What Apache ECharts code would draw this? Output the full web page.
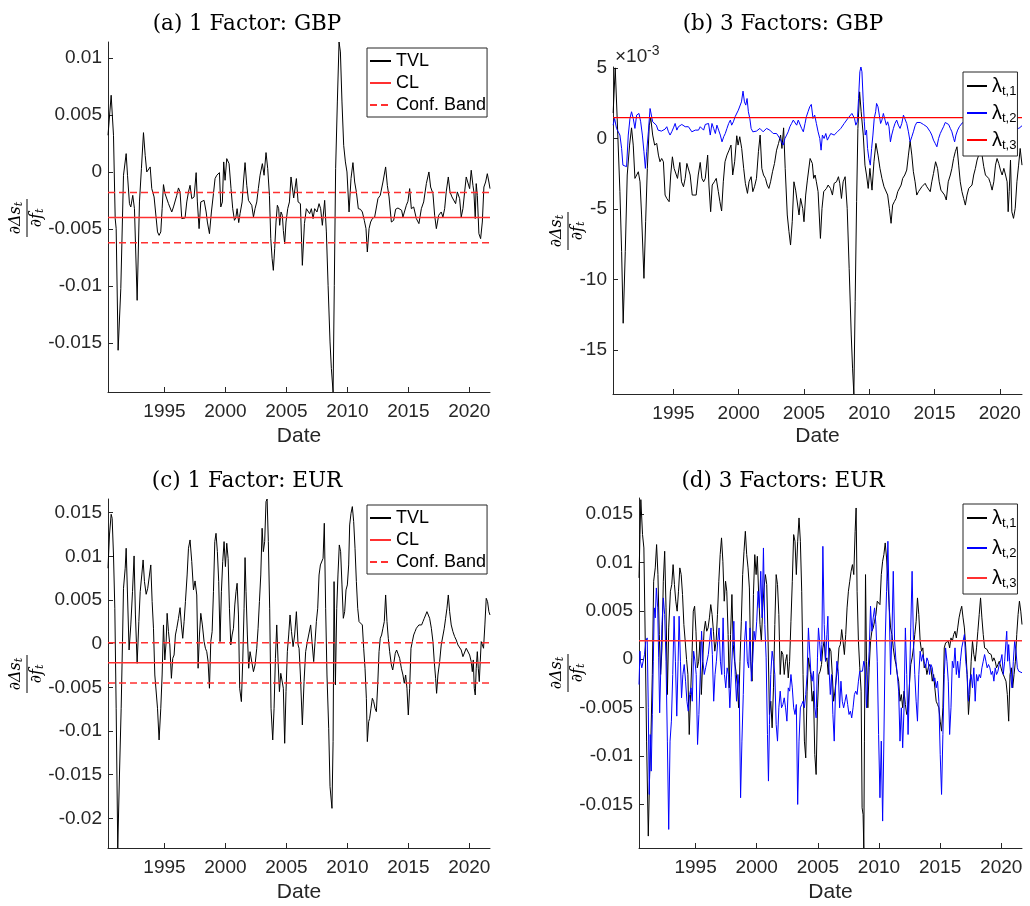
<!DOCTYPE html>
<html><head><meta charset="utf-8">
<script src="https://cdn.jsdelivr.net/npm/echarts/dist/echarts.min.js"></script>
<style>html,body{margin:0;padding:0;background:#fff}#c{width:1030px;height:906px}</style>
</head><body><div id="c"></div>
<script>
// ---------- shared axis data ----------
const dateTicks = [1995, 2000, 2005, 2010, 2015, 2020];
const dateMin = 1990.37, dateMax = 2021.70;
const titles = ['(a) 1 Factor: GBP', '(b) 3 Factors: GBP', '(c) 1 Factor: EUR', '(d) 3 Factors: EUR'];
const yTicksA = [0.01, 0.005, 0, -0.005, -0.01, -0.015];
const yTicksB = [5, 0, -5, -10, -15];           // x 10^-3
const yTicksC = [0.015, 0.01, 0.005, 0, -0.005, -0.01, -0.015, -0.02];
const yTicksD = [0.015, 0.01, 0.005, 0, -0.005, -0.01, -0.015];
const yRangeA = [-0.0193, 0.0114];
const yRangeB = [-18.1, 5.06];
const yRangeC = [-0.0234, 0.01656];
const yRangeD = [-0.0195, 0.01665];
const tvlNames = ['TVL', 'CL', 'Conf. Band'];
const lamNames = ['λt,1', 'λt,2', 'λt,3'];

// ---------- (a) 1 factor GBP ----------
const gbpTVL = [[1990.37,0.00322],[1990.63,0.00673],[1990.82,0.00322],[1990.96,-0.00409],[1991.04,-0.00497],[1991.20,-0.01564],[1991.42,-0.01023],[1991.64,-0.00029],[1991.86,0.00161],[1991.97,-0.00029],[1992.13,-0.00278],[1992.24,-0.00307],[1992.40,-0.00205],[1992.54,-0.00322],[1992.76,-0.01126],[1992.95,-0.00263],[1993.11,0.00029],[1993.28,0.00345],[1993.42,0.00146],[1993.55,0],[1993.69,0.00015],[1993.83,0.00044],[1993.96,-0.00146],[1994.15,-0.00219],[1994.29,-0.00219],[1994.43,-0.00526],[1994.56,-0.00556],[1994.70,-0.00526],[1994.81,-0.00322],[1994.92,-0.00111],[1995.05,-0.0019],[1995.19,-0.0019],[1995.33,-0.00278],[1995.46,-0.00292],[1995.60,-0.00351],[1995.74,-0.00307],[1995.87,-0.00307],[1996.01,-0.00205],[1996.15,-0.0014],[1996.28,-0.00175],[1996.42,-0.00409],[1996.56,-0.00404],[1996.69,-0.00404],[1996.83,-0.00263],[1996.97,-0.00175],[1997.10,-0.00117],[1997.24,-0.00234],[1997.43,-0.00219],[1997.60,-0.00006],[1997.70,-0.00263],[1997.84,-0.00497],[1997.98,-0.00263],[1998.11,-0.00278],[1998.25,-0.00249],[1998.42,-0.00351],[1998.52,-0.00439],[1998.69,-0.00541],[1998.85,-0.00351],[1999.02,-0.0019],[1999.15,-0.00058],[1999.29,-0.00029],[1999.43,-0.00023],[1999.51,-0.00006],[1999.62,-0.00307],[1999.75,-0.00263],[1999.86,0.00088],[1999.97,-0.00073],[2000.11,0.00117],[2000.30,0.00073],[2000.46,-0.00146],[2000.60,-0.00322],[2000.74,-0.00424],[2000.85,-0.00404],[2000.96,-0.00322],[2001.09,-0.00444],[2001.20,-0.00366],[2001.37,-0.00263],[2001.48,-0.00088],[2001.61,0.00082],[2001.75,-0.00117],[2001.89,-0.00249],[2002.02,-0.00249],[2002.16,-0.00292],[2002.30,-0.00395],[2002.43,-0.00322],[2002.57,-0.00263],[2002.70,-0.00146],[2002.84,-0.00029],[2003.03,0.00073],[2003.17,-0.00029],[2003.33,0.0017],[2003.47,0.00029],[2003.61,-0.00205],[2003.72,-0.00585],[2003.83,-0.0076],[2003.93,-0.00863],[2004.04,-0.00673],[2004.15,-0.00439],[2004.26,-0.00292],[2004.37,-0.00322],[2004.45,-0.00468],[2004.56,-0.00351],[2004.67,-0.0038],[2004.75,-0.00512],[2004.86,-0.00629],[2004.97,-0.00439],[2005.11,-0.00322],[2005.25,-0.00263],[2005.38,-0.00044],[2005.49,-0.00058],[2005.60,-0.00228],[2005.82,-0.00058],[2005.96,-0.00263],[2006.15,-0.00278],[2006.31,-0.00819],[2006.48,-0.00453],[2006.64,-0.00322],[2006.78,-0.00316],[2006.91,-0.00366],[2007.05,-0.00322],[2007.19,-0.00409],[2007.32,-0.00322],[2007.51,-0.00351],[2007.68,-0.00278],[2007.81,-0.00322],[2007.95,-0.00468],[2008.14,-0.00249],[2008.28,-0.00526],[2008.42,-0.00994],[2008.58,-0.01491],[2008.69,-0.01725],[2008.83,-0.0193],[2008.93,-0.00994],[2009.04,0.00029],[2009.18,0.00614],[2009.32,0.0114],[2009.43,0.01053],[2009.56,0.00614],[2009.70,0.00234],[2009.84,0.00088],[2009.97,0],[2010.14,-0.00351],[2010.30,-0.00058],[2010.46,0.00082],[2010.60,-0.00088],[2010.74,-0.00175],[2010.90,-0.00322],[2011.07,-0.00327],[2011.23,-0.00351],[2011.39,-0.00424],[2011.53,-0.00497],[2011.64,-0.00702],[2011.78,-0.00497],[2011.91,-0.00439],[2012.05,-0.00409],[2012.24,-0.00395],[2012.38,-0.00409],[2012.51,-0.00234],[2012.70,-0.00205],[2012.92,-0.00088],[2013.14,0.00044],[2013.28,-0.00117],[2013.42,-0.00219],[2013.61,-0.00439],[2013.80,-0.00424],[2013.96,-0.00327],[2014.15,-0.00316],[2014.29,-0.00322],[2014.45,-0.00336],[2014.56,-0.00395],[2014.70,-0.00395],[2014.84,-0.00292],[2014.97,-0.00257],[2015.11,-0.00146],[2015.25,-0.00322],[2015.44,-0.00307],[2015.66,-0.00409],[2015.87,-0.00453],[2016.07,-0.00322],[2016.26,-0.00263],[2016.48,-0.00102],[2016.69,0],[2016.83,-0.00132],[2017.02,-0.0019],[2017.16,-0.0038],[2017.30,-0.00497],[2017.49,-0.0038],[2017.70,-0.00351],[2017.84,-0.00395],[2017.98,-0.00322],[2018.11,-0.00175],[2018.28,-0.00044],[2018.42,-0.00175],[2018.58,-0.00219],[2018.74,-0.00234],[2018.88,-0.00278],[2019.02,-0.00175],[2019.21,-0.00234],[2019.34,-0.00395],[2019.48,-0.00322],[2019.62,-0.00175],[2019.75,-0.00044],[2019.89,-0.00058],[2020.03,-0.00146],[2020.16,0.00015],[2020.30,-0.00117],[2020.38,-0.00175],[2020.49,-0.00409],[2020.57,-0.00102],[2020.66,-0.00205],[2020.79,-0.00541],[2020.93,-0.00585],[2021.07,-0.00439],[2021.20,-0.00132],[2021.34,-0.00088],[2021.48,-0.00015],[2021.61,-0.00088],[2021.70,-0.00146]];
const gbpCL = -0.0040;
const gbpBand = [-0.0062, -0.0018];

// ---------- (b) 3 factors GBP (values in 10^-3) ----------
const gbpLam1 = [[1990.38,1.8],[1990.54,5.0],[1990.69,1.42],[1990.90,-3.77],[1991.03,-8.02],[1991.15,-13.09],[1991.31,-8.02],[1991.46,-2.59],[1991.64,-0.47],[1991.79,0.75],[1991.92,-0.47],[1992.05,-2.83],[1992.18,-2.95],[1992.31,-2.36],[1992.44,-3.07],[1992.56,-5.42],[1992.74,-9.91],[1992.87,-5.9],[1993.00,-2.12],[1993.15,0.94],[1993.26,1.46],[1993.41,0.24],[1993.56,-0.47],[1993.72,-0.35],[1993.85,-1.18],[1993.97,-1.65],[1994.10,-1.42],[1994.23,-1.65],[1994.36,-4.01],[1994.49,-4.25],[1994.67,-4.48],[1994.79,-2.59],[1994.92,-1.3],[1995.05,-2.12],[1995.18,-2.0],[1995.31,-2.83],[1995.49,-1.7],[1995.62,-3.07],[1995.77,-3.42],[1995.90,-2.83],[1996.03,-1.77],[1996.15,-1.65],[1996.28,-2.59],[1996.44,-4.01],[1996.59,-4.13],[1996.74,-4.01],[1996.90,-2.59],[1997.05,-1.7],[1997.18,-2.83],[1997.31,-3.07],[1997.44,-2.83],[1997.62,-1.18],[1997.72,-3.3],[1997.85,-5.19],[1997.97,-3.3],[1998.13,-3.07],[1998.28,-2.83],[1998.44,-3.77],[1998.56,-4.48],[1998.69,-5.14],[1998.82,-3.07],[1998.95,-1.65],[1999.10,-1.18],[1999.26,-0.83],[1999.41,-0.47],[1999.54,-2.59],[1999.69,-1.65],[1999.85,0.19],[1999.95,-0.47],[2000.08,0.12],[2000.23,-0.71],[2000.38,-2.12],[2000.51,-3.18],[2000.67,-3.89],[2000.79,-3.07],[2000.95,-2.71],[2001.08,-3.77],[2001.21,-3.42],[2001.36,-2.83],[2001.51,-0.94],[2001.64,0.24],[2001.77,-2.12],[2001.90,-2.59],[2002.05,-2.83],[2002.18,-3.3],[2002.31,-3.54],[2002.44,-3.07],[2002.59,-2.36],[2002.74,-1.77],[2002.90,-0.83],[2003.05,-0.35],[2003.21,0.24],[2003.31,-0.71],[2003.44,0.75],[2003.56,-2.12],[2003.72,-5.42],[2003.85,-6.6],[2003.97,-7.55],[2004.10,-5.9],[2004.23,-3.07],[2004.36,-3.66],[2004.49,-3.77],[2004.62,-5.42],[2004.74,-4.25],[2004.90,-4.95],[2005.00,-5.9],[2005.13,-4.01],[2005.26,-2.95],[2005.38,-2.83],[2005.47,-1.42],[2005.64,-1.77],[2005.74,-2.83],[2005.85,-2.59],[2005.95,-3.07],[2006.08,-3.77],[2006.26,-7.08],[2006.38,-4.95],[2006.51,-3.77],[2006.72,-3.54],[2006.85,-3.3],[2007.03,-3.54],[2007.18,-4.01],[2007.31,-3.18],[2007.49,-3.07],[2007.64,-2.71],[2007.74,-3.18],[2007.87,-4.25],[2008.00,-3.07],[2008.15,-2.71],[2008.31,-4.95],[2008.46,-9.2],[2008.62,-13.92],[2008.72,-16.27],[2008.82,-18.1],[2008.92,-11.56],[2009.03,-4.48],[2009.13,0.71],[2009.26,3.3],[2009.38,1.89],[2009.54,0.24],[2009.67,-1.89],[2009.79,-2.59],[2009.92,-3.54],[2010.05,-2.12],[2010.21,-3.66],[2010.36,-1.65],[2010.51,-0.35],[2010.67,-1.18],[2010.82,-2.12],[2010.97,-2.83],[2011.13,-3.42],[2011.28,-3.54],[2011.41,-4.01],[2011.54,-4.95],[2011.67,-6.01],[2011.79,-4.72],[2011.92,-4.48],[2012.05,-4.25],[2012.18,-3.77],[2012.31,-3.89],[2012.44,-3.3],[2012.56,-2.83],[2012.72,-2.59],[2012.87,-2.24],[2013.00,-1.18],[2013.13,-0.19],[2013.26,-1.18],[2013.38,-2.36],[2013.51,-3.07],[2013.64,-4.01],[2013.77,-3.77],[2013.90,-3.89],[2014.03,-3.42],[2014.15,-3.3],[2014.28,-3.18],[2014.41,-3.42],[2014.54,-3.54],[2014.67,-3.77],[2014.79,-3.07],[2014.92,-2.48],[2015.08,-1.65],[2015.23,-2.12],[2015.36,-3.07],[2015.49,-3.66],[2015.64,-3.77],[2015.77,-4.01],[2015.90,-4.36],[2016.05,-3.07],[2016.21,-2.59],[2016.33,-2.12],[2016.46,-1.42],[2016.59,-0.94],[2016.72,-0.59],[2016.85,-1.89],[2016.97,-3.07],[2017.10,-3.77],[2017.23,-4.25],[2017.36,-4.72],[2017.49,-4.01],[2017.62,-3.54],[2017.74,-3.42],[2017.87,-3.3],[2018.00,-2.59],[2018.13,-2.12],[2018.26,-1.53],[2018.38,-1.65],[2018.51,-0.83],[2018.64,-1.18],[2018.77,-2.0],[2018.90,-2.59],[2019.03,-2.71],[2019.15,-2.83],[2019.28,-3.18],[2019.41,-3.66],[2019.54,-3.07],[2019.67,-1.89],[2019.79,-1.42],[2019.92,-1.77],[2020.05,-2.24],[2020.18,-2.59],[2020.31,-2.12],[2020.44,-2.59],[2020.56,-3.07],[2020.64,-5.19],[2020.72,-3.77],[2020.82,-1.53],[2020.92,-5.19],[2021.05,-5.66],[2021.18,-4.95],[2021.31,-3.07],[2021.44,-1.89],[2021.56,-0.71],[2021.70,-1.89]];
const gbpLam2 = [[1990.38,0.94],[1990.49,1.42],[1990.64,0.71],[1990.77,0.47],[1990.90,0.24],[1991.03,-0.71],[1991.13,-1.89],[1991.28,-2.0],[1991.41,-2.0],[1991.54,0.24],[1991.67,1.42],[1991.79,1.89],[1991.92,1.42],[1992.05,0.71],[1992.18,1.65],[1992.36,1.77],[1992.49,1.18],[1992.62,0.24],[1992.74,-0.94],[1992.85,-2.12],[1992.95,-0.94],[1993.08,0.47],[1993.21,2.12],[1993.31,2.24],[1993.41,1.18],[1993.56,1.06],[1993.69,0.94],[1993.82,0.59],[1993.95,0.59],[1994.08,0.52],[1994.23,0.59],[1994.36,0.66],[1994.49,0.83],[1994.62,0.47],[1994.74,0.24],[1994.87,0.47],[1995.00,0.75],[1995.13,1.06],[1995.26,0.59],[1995.38,0.83],[1995.51,0.94],[1995.64,0.99],[1995.77,0.9],[1995.90,0.83],[1996.03,0.9],[1996.15,0.83],[1996.28,0.75],[1996.41,0.47],[1996.54,0.42],[1996.67,0.59],[1996.79,0.66],[1996.92,0.59],[1997.05,0.83],[1997.18,0.75],[1997.31,0.59],[1997.44,0.99],[1997.56,0.9],[1997.69,1.06],[1997.82,0.24],[1997.95,1.06],[1998.08,0.71],[1998.21,0.35],[1998.33,0.94],[1998.46,0.59],[1998.59,0.24],[1998.72,-0.24],[1998.85,0.12],[1998.97,0.35],[1999.10,0.71],[1999.23,1.06],[1999.36,1.3],[1999.46,0.94],[1999.59,1.18],[1999.72,1.53],[1999.85,1.65],[1999.97,2.0],[2000.08,2.12],[2000.21,2.59],[2000.33,3.35],[2000.44,2.59],[2000.54,2.36],[2000.64,2.83],[2000.74,1.89],[2000.85,1.42],[2000.95,0.71],[2001.08,0.47],[2001.21,0.35],[2001.36,0.52],[2001.49,0.59],[2001.62,0.71],[2001.74,0.59],[2001.87,0.47],[2002.00,0.59],[2002.13,0.71],[2002.26,0.59],[2002.38,0.59],[2002.51,0.47],[2002.64,0.35],[2002.77,0.42],[2002.90,0.35],[2003.03,0.24],[2003.15,0],[2003.28,-0.24],[2003.41,-0.47],[2003.54,0],[2003.67,0.24],[2003.79,0.47],[2003.92,0.83],[2004.05,1.06],[2004.18,1.3],[2004.31,1.18],[2004.44,0.94],[2004.56,1.3],[2004.69,1.18],[2004.82,0.71],[2004.95,0.47],[2005.08,1.06],[2005.18,1.53],[2005.31,1.89],[2005.44,2.24],[2005.56,2.41],[2005.69,1.42],[2005.82,1.65],[2005.95,1.06],[2006.08,0.47],[2006.21,0],[2006.31,-0.83],[2006.41,0.24],[2006.54,0],[2006.67,0.35],[2006.79,-0.12],[2006.92,0.12],[2007.05,0.35],[2007.18,0.47],[2007.31,0.24],[2007.44,0.24],[2007.56,0.47],[2007.69,0.59],[2007.82,0.71],[2007.95,0.83],[2008.08,1.06],[2008.21,1.18],[2008.36,1.42],[2008.51,1.53],[2008.67,1.77],[2008.77,1.89],[2008.87,1.42],[2008.97,0.94],[2009.08,1.18],[2009.18,2.83],[2009.28,4.72],[2009.36,5.06],[2009.44,4.72],[2009.54,2.59],[2009.62,1.18],[2009.69,0.24],[2009.79,0.59],[2009.87,-0.71],[2009.97,-1.42],[2010.08,-1.89],[2010.18,-0.71],[2010.28,0.24],[2010.38,1.42],[2010.49,1.89],[2010.56,2.48],[2010.67,2.24],[2010.77,1.65],[2010.87,1.06],[2010.97,1.3],[2011.08,1.77],[2011.21,1.3],[2011.31,0.94],[2011.41,1.18],[2011.51,0.83],[2011.62,-0.24],[2011.72,0.24],[2011.85,0.71],[2011.97,1.06],[2012.10,1.3],[2012.23,0.94],[2012.36,0.71],[2012.49,1.06],[2012.62,1.65],[2012.74,1.77],[2012.87,1.06],[2013.00,0.47],[2013.13,-0.24],[2013.26,0.12],[2013.38,0.47],[2013.51,0.9],[2013.64,1.13],[2013.77,1.23],[2013.90,1.13],[2014.03,1.06],[2014.15,0.99],[2014.28,0.94],[2014.41,0.83],[2014.54,0.71],[2014.67,0.47],[2014.79,0.24],[2014.92,-0.12],[2015.05,-0.35],[2015.18,-0.59],[2015.31,0],[2015.44,0.35],[2015.56,0.59],[2015.69,0.83],[2015.82,1.13],[2015.95,1.23],[2016.08,0.99],[2016.21,0.71],[2016.33,0.47],[2016.46,0],[2016.54,-0.24],[2016.64,0.24],[2016.77,0.59],[2016.90,0.83],[2017.03,0.94],[2017.15,1.13],[2017.5,0.6],[2017.9,1.1],[2018.3,0.4],[2018.7,0.9],[2019.1,0.5],[2019.5,1.0],[2019.9,0.6],[2020.3,1.1],[2020.7,0.5],[2021.1,0.8],[2021.46,0.71],[2021.70,0.9]];
const gbpLam3 = 1.48;

// ---------- (c) 1 factor EUR ----------
const eurTVL = [[1990.37,0.00863],[1990.49,0.01244],[1990.63,0.01481],[1990.71,0.01435],[1990.82,0.01015],[1990.93,0.00405],[1991.04,-0.0074],[1991.17,-0.0234],[1991.31,-0.01504],[1991.45,-0.0074],[1991.56,0.00023],[1991.64,0.00634],[1991.78,0.00863],[1991.86,0.01092],[1991.97,0.00557],[1992.10,-0.00073],[1992.24,0.00214],[1992.38,0.00595],[1992.51,0.01004],[1992.62,0.00328],[1992.76,-0.00225],[1992.90,0.00252],[1993.01,0.00595],[1993.14,0.00786],[1993.25,0.00958],[1993.36,0.0071],[1993.50,0.00565],[1993.63,0.00634],[1993.77,0.00786],[1993.88,0.00901],[1993.99,0.00481],[1994.10,0.00176],[1994.21,-0.00359],[1994.32,-0.0034],[1994.43,-0.0074],[1994.56,-0.01103],[1994.70,-0.0074],[1994.81,-0.00359],[1994.92,0.00214],[1995.03,-0.00187],[1995.14,0.00023],[1995.22,0.00347],[1995.33,0.00137],[1995.44,-0.00015],[1995.57,-0.00397],[1995.68,-0.00168],[1995.79,-0.0013],[1995.90,0.00099],[1996.01,0.00176],[1996.15,0.0029],[1996.28,0.00412],[1996.39,0.00214],[1996.50,0.00061],[1996.61,0.00252],[1996.72,0.00481],[1996.86,0.00786],[1996.97,0.01092],[1997.10,0.01187],[1997.24,0.00939],[1997.38,0.00615],[1997.51,0.00718],[1997.65,0.00557],[1997.76,-0.00282],[1997.87,0.00099],[1997.98,0.00347],[1998.11,0.00214],[1998.25,0.00023],[1998.36,-0.00053],[1998.47,-0.00092],[1998.58,-0.00206],[1998.69,-0.00511],[1998.80,0.00023],[1998.91,0.00137],[1999.02,0.00595],[1999.13,0.01168],[1999.23,0.01263],[1999.34,0.01053],[1999.45,0.0071],[1999.56,0.00023],[1999.67,0.00595],[1999.78,0.00939],[1999.89,0.01168],[2000.00,0.00882],[2000.11,0.01149],[2000.22,0.00977],[2000.33,0.00405],[2000.44,-0.00015],[2000.55,0.00099],[2000.66,0.00176],[2000.77,0.00443],[2000.87,0.00595],[2000.96,0.00691],[2001.07,0.00328],[2001.17,-0.00511],[2001.31,-0.00664],[2001.42,-0.00206],[2001.53,0.00405],[2001.61,0.00985],[2001.69,0.00595],[2001.80,0.00099],[2001.91,-0.00282],[2002.02,-0.00092],[2002.16,-0.00084],[2002.30,-0.00321],[2002.43,-0.00244],[2002.57,-0.00053],[2002.68,0.00176],[2002.79,0.00481],[2002.90,0.00786],[2003.01,0.01321],[2003.11,0.01053],[2003.22,0.01168],[2003.33,0.01626],[2003.42,0.01656],[2003.52,0.01168],[2003.63,0.00405],[2003.74,-0.0074],[2003.88,-0.01103],[2003.99,-0.0074],[2004.10,-0.00168],[2004.21,0.00214],[2004.32,-0.00206],[2004.43,-0.0055],[2004.54,-0.0034],[2004.64,-0.00359],[2004.75,-0.00511],[2004.86,-0.01141],[2004.97,-0.0055],[2005.08,-0.00092],[2005.19,0.00099],[2005.30,0.00328],[2005.42,0.00137],[2005.55,-0.00034],[2005.68,0.00099],[2005.82,0.00366],[2005.96,-0.00015],[2006.04,-0.00053],[2006.15,-0.00359],[2006.31,-0.00931],[2006.45,-0.00435],[2006.58,-0.00092],[2006.72,0.00023],[2006.86,0.00042],[2006.99,0.00214],[2007.10,0.00023],[2007.24,-0.00206],[2007.35,0.00023],[2007.46,0.00252],[2007.57,0.00405],[2007.68,0.00786],[2007.79,0.00901],[2007.90,0.0092],[2008.01,0.00977],[2008.11,0.01378],[2008.22,0.00405],[2008.33,-0.00359],[2008.47,-0.00969],[2008.58,-0.01637],[2008.66,-0.01657],[2008.74,-0.01886],[2008.83,-0.01122],[2008.91,0.0071],[2009.02,-0.00473],[2009.13,0.00405],[2009.23,0.00786],[2009.34,0.0113],[2009.45,0.01053],[2009.56,0.00672],[2009.67,0.0029],[2009.78,0.00366],[2009.89,0.00615],[2010.00,0.00672],[2010.11,0.00901],[2010.19,0.01359],[2010.30,0.01492],[2010.41,0.01569],[2010.52,0.01397],[2010.63,0.01092],[2010.74,0.0071],[2010.85,0.00405],[2010.96,0.00252],[2011.09,0.00271],[2011.23,0.00214],[2011.34,-0.00053],[2011.45,-0.00282],[2011.56,-0.00626],[2011.64,-0.01122],[2011.75,-0.00893],[2011.83,-0.00855],[2011.94,-0.0074],[2012.05,-0.00626],[2012.16,-0.00664],[2012.27,-0.0074],[2012.38,-0.00779],[2012.49,-0.00473],[2012.60,-0.00092],[2012.70,0.00061],[2012.81,0.00099],[2012.92,0.00176],[2013.03,0.00252],[2013.14,0.00557],[2013.25,0.00252],[2013.36,0.00061],[2013.47,-0.00092],[2013.61,-0.00244],[2013.72,-0.00302],[2013.83,-0.00206],[2013.93,-0.00111],[2014.04,-0.00073],[2014.15,-0.00092],[2014.29,-0.00168],[2014.43,-0.00282],[2014.56,-0.00359],[2014.67,-0.00454],[2014.78,-0.00359],[2014.89,-0.00511],[2015.00,-0.00817],[2015.11,-0.00511],[2015.22,-0.00053],[2015.33,0.00023],[2015.44,0.00099],[2015.55,0.00137],[2015.66,0.00176],[2015.77,0.00176],[2015.87,0.00214],[2015.98,0.00233],[2016.09,0.00214],[2016.20,0.00252],[2016.31,0.0029],[2016.42,0.00328],[2016.53,0.00366],[2016.64,0.00386],[2016.75,0.0029],[2016.89,0.00176],[2017.02,0.00023],[2017.13,-0.00206],[2017.24,-0.00397],[2017.32,-0.00569],[2017.43,-0.00359],[2017.57,-0.00206],[2017.70,-0.00015],[2017.84,0.00004],[2017.95,0.00176],[2018.06,0.0029],[2018.17,0.00405],[2018.28,0.00557],[2018.39,0.00366],[2018.52,0.00214],[2018.66,0.00137],[2018.80,0.0008],[2018.93,0.00042],[2019.07,-0.00015],[2019.21,-0.00034],[2019.34,-0.00073],[2019.48,-0.00149],[2019.62,-0.00149],[2019.75,-0.00053],[2019.89,-0.00073],[2020.03,-0.0013],[2020.16,-0.00206],[2020.25,-0.00321],[2020.33,-0.00187],[2020.41,-0.00511],[2020.49,-0.00588],[2020.57,-0.00282],[2020.66,-0.00092],[2020.74,-0.00282],[2020.82,-0.00435],[2020.90,-0.00206],[2020.98,0.00023],[2021.07,0.00023],[2021.17,-0.00053],[2021.28,0.00214],[2021.39,0.00519],[2021.50,0.00481],[2021.61,0.00366],[2021.70,0.00328]];
const eurCL = -0.0022;
const eurBand = [-0.0045, 0.0001];

// ---------- (d) 3 factors EUR ----------
const eurLam1 = [[1990.37,0.0084],[1990.45,0.01287],[1990.52,0.01648],[1990.66,0.01287],[1990.77,0.01149],[1990.88,0.00186],[1990.99,-0.00846],[1991.13,-0.01827],[1991.24,-0.01191],[1991.35,-0.00778],[1991.46,-0.00158],[1991.57,0.00805],[1991.70,0.00943],[1991.81,0.01184],[1991.92,0.00874],[1992.03,0.00255],[1992.14,-0.00158],[1992.25,0.00117],[1992.36,0.00805],[1992.47,0.01115],[1992.58,0.0053],[1992.69,-0.00365],[1992.80,0.00323],[1992.94,0.00702],[1993.05,0.00771],[1993.16,0.00977],[1993.27,0.00771],[1993.38,0.00599],[1993.49,0.00496],[1993.60,0.00702],[1993.71,0.00943],[1993.82,0.00874],[1993.93,0.00668],[1994.04,0.00358],[1994.15,0.00186],[1994.26,-0.00003],[1994.37,-0.00158],[1994.48,-0.00778],[1994.59,-0.00365],[1994.70,0.00014],[1994.81,0.00496],[1994.92,0.00547],[1995.03,0.00289],[1995.14,-0.00089],[1995.25,-0.00021],[1995.36,0.00186],[1995.47,-0.00365],[1995.58,-0.00021],[1995.69,0.00289],[1995.80,0.00392],[1995.91,0.00289],[1996.02,0.00323],[1996.13,0.00427],[1996.24,0.00564],[1996.35,0.00461],[1996.46,0.00289],[1996.57,0.00083],[1996.68,0.00186],[1996.79,0.00461],[1996.90,0.00805],[1997.01,0.0108],[1997.12,0.01253],[1997.23,0.01012],[1997.34,0.00599],[1997.45,0.00805],[1997.55,0.00702],[1997.66,0.00255],[1997.75,-0.00296],[1997.86,0.00255],[1997.97,0.00668],[1998.08,0.00151],[1998.19,-0.00021],[1998.30,-0.00124],[1998.41,-0.00262],[1998.52,-0.00502],[1998.63,-0.00021],[1998.74,0.00392],[1998.85,0.00874],[1998.96,0.01115],[1999.07,0.01321],[1999.18,0.0108],[1999.29,0.00943],[1999.40,0.00736],[1999.51,-0.00021],[1999.62,-0.00227],[1999.73,0.00668],[1999.84,0.0108],[1999.95,0.00874],[2000.05,0.01063],[2000.16,0.00668],[2000.27,0.00358],[2000.38,0.00186],[2000.49,0.0053],[2000.60,0.00736],[2000.71,0.00874],[2000.82,0.00771],[2000.93,0.00186],[2001.04,-0.00571],[2001.15,-0.00434],[2001.26,-0.00709],[2001.37,-0.00296],[2001.48,0.00358],[2001.59,0.00874],[2001.70,0.00771],[2001.81,0.00461],[2001.92,-0.00158],[2002.03,0.00083],[2002.14,0.00048],[2002.25,-0.00158],[2002.36,-0.00021],[2002.47,0.00048],[2002.58,-0.00193],[2002.69,-0.00021],[2002.80,0.00392],[2002.91,0.00805],[2003.02,0.01287],[2003.13,0.01218],[2003.24,0.00874],[2003.35,0.01218],[2003.46,0.01459],[2003.57,0.01218],[2003.68,0.00702],[2003.79,-0.00158],[2003.90,-0.00846],[2004.01,-0.01019],[2004.12,-0.0033],[2004.23,0.00014],[2004.42,-0.00158],[2004.53,-0.00434],[2004.64,-0.0033],[2004.75,-0.00984],[2004.86,-0.01191],[2004.97,-0.00502],[2005.08,-0.00158],[2005.19,-0.00124],[2005.30,-0.00055],[2005.41,0.00117],[2005.52,0.00186],[2005.63,-0.00021],[2005.74,0.00014],[2005.85,-0.00158],[2005.96,0.00117],[2006.07,0.00083],[2006.18,-0.00158],[2006.29,-0.00434],[2006.40,-0.0033],[2006.51,-0.00193],[2006.62,-0.00089],[2006.73,0.00117],[2006.84,0.00151],[2006.95,0.00306],[2007.06,0.00186],[2007.17,0.00048],[2007.28,0.00255],[2007.39,0.0053],[2007.50,0.00702],[2007.61,0.00805],[2007.72,0.00908],[2007.83,0.00977],[2007.94,0.00874],[2008.05,0.01321],[2008.13,0.01562],[2008.21,0.00702],[2008.32,0.00186],[2008.43,-0.00089],[2008.54,-0.0033],[2008.62,-0.01535],[2008.70,-0.01604],[2008.76,-0.0195],[2008.81,-0.00846],[2008.90,0.00874],[2008.98,-0.00021],[2009.09,-0.00502],[2009.20,-0.00089],[2009.31,0.00186],[2009.42,0.00289],[2009.53,0.00323],[2009.64,0.00392],[2009.75,0.00461],[2009.86,0.00599],[2009.97,0.00616],[2010.08,0.00564],[2010.19,0.00874],[2010.30,0.01012],[2010.40,0.0108],[2010.51,0.01201],[2010.62,0.01046],[2010.73,0.00805],[2010.84,0.0053],[2010.95,0.00323],[2011.06,0.00255],[2011.17,0.00117],[2011.28,0.00014],[2011.39,-0.00055],[2011.50,-0.00158],[2011.61,-0.00227],[2011.72,-0.00434],[2011.83,-0.00365],[2011.94,-0.00502],[2012.05,-0.0033],[2012.16,-0.00468],[2012.27,-0.00571],[2012.38,-0.00537],[2012.49,-0.00262],[2012.60,-0.00055],[2012.71,0.00014],[2012.82,0.00117],[2012.93,0.00255],[2013.04,0.00392],[2013.15,0.00633],[2013.26,0.00461],[2013.37,0.00186],[2013.48,0.00083],[2013.59,0.00117],[2013.70,-0.00089],[2013.81,-0.00055],[2013.92,-0.00158],[2014.03,-0.00089],[2014.14,-0.00055],[2014.25,-0.00089],[2014.36,-0.00227],[2014.47,-0.00158],[2014.57,-0.00296],[2014.68,-0.00434],[2014.79,-0.00468],[2014.90,-0.00502],[2015.01,-0.0064],[2015.12,-0.00743],[2015.23,-0.00502],[2015.34,0.00117],[2015.45,0.00169],[2015.56,0.00151],[2015.67,0.00186],[2015.78,0.00117],[2015.89,0.0022],[2016.00,0.00186],[2016.11,0.00255],[2016.22,0.00289],[2016.33,0.0022],[2016.44,0.00323],[2016.55,0.00427],[2016.66,0.00496],[2016.77,0.00547],[2016.88,0.00427],[2016.99,0.00323],[2017.10,0.00117],[2017.21,-0.00158],[2017.32,-0.00571],[2017.43,-0.00365],[2017.54,-0.00021],[2017.65,0.00186],[2017.76,0.00048],[2017.87,-0.00021],[2017.98,0.00117],[2018.09,0.00289],[2018.20,0.00461],[2018.31,0.00633],[2018.42,0.00427],[2018.53,0.00255],[2018.64,0.00117],[2018.75,0.001],[2018.85,0.001],[2018.96,0.00065],[2019.07,0.00048],[2019.18,0.00048],[2019.29,-0.00021],[2019.40,0.00014],[2019.51,-0.00021],[2019.62,-0.00089],[2019.73,-0.00055],[2019.84,-0.00021],[2019.95,-0.00072],[2020.06,-0.00124],[2020.17,-0.00158],[2020.28,-0.00193],[2020.39,-0.00227],[2020.50,-0.00365],[2020.61,-0.0064],[2020.72,-0.00158],[2020.83,-0.00089],[2020.94,-0.00296],[2021.05,-0.00158],[2021.16,-0.00021],[2021.27,0.00255],[2021.38,0.00461],[2021.49,0.00599],[2021.60,0.00496],[2021.70,0.00358]];
const eurLam2 = [[1990.37,-0.00262],[1990.45,0.00083],[1990.49,-0.00021],[1990.60,-0.00089],[1990.71,-0.00021],[1990.82,0.00048],[1990.93,0.00186],[1991.04,0.0022],[1991.13,-0.00502],[1991.21,-0.01397],[1991.29,-0.00778],[1991.37,-0.01156],[1991.46,-0.00571],[1991.54,-0.00021],[1991.62,0.0053],[1991.70,0.00427],[1991.79,0.00736],[1991.90,0.0053],[1991.98,0.00014],[1992.06,-0.00554],[1992.14,-0.00158],[1992.25,0.00358],[1992.36,0.00633],[1992.47,0.00461],[1992.58,-0.00021],[1992.69,-0.00846],[1992.80,-0.01758],[1992.91,-0.00846],[1993.02,-0.0064],[1993.13,-0.00158],[1993.24,0.00444],[1993.35,-0.00021],[1993.46,-0.00588],[1993.57,-0.00021],[1993.65,0.00444],[1993.76,-0.00021],[1993.85,-0.00399],[1993.96,-0.00158],[1994.07,-0.00055],[1994.18,-0.00227],[1994.29,-0.00434],[1994.40,-0.00537],[1994.51,-0.00365],[1994.62,-0.00296],[1994.73,-0.00434],[1994.84,0.00083],[1994.95,-0.00021],[1995.05,-0.00158],[1995.16,-0.00881],[1995.27,-0.00571],[1995.38,-0.00158],[1995.49,0.00289],[1995.60,-0.00021],[1995.71,-0.00158],[1995.82,-0.00089],[1995.93,-0.00021],[1996.04,0.00048],[1996.15,0.00186],[1996.26,0.00323],[1996.37,0.00048],[1996.48,-0.00434],[1996.59,-0.00158],[1996.70,-0.00021],[1996.81,0.00186],[1996.92,0.00323],[1997.03,-0.00021],[1997.14,-0.00158],[1997.25,0.00427],[1997.36,-0.00158],[1997.47,-0.00296],[1997.58,-0.00089],[1997.69,-0.00158],[1997.80,-0.00502],[1997.91,-0.00193],[1998.02,0.00117],[1998.13,0.00392],[1998.24,-0.00158],[1998.35,-0.00434],[1998.46,-0.00158],[1998.57,-0.0033],[1998.68,-0.01431],[1998.79,-0.00846],[1998.90,-0.00365],[1999.01,0.00186],[1999.12,0.00392],[1999.23,-0.00021],[1999.34,-0.00089],[1999.45,0.00323],[1999.56,-0.00227],[1999.67,-0.00021],[1999.78,0.00289],[1999.89,0.00186],[2000.00,0.00392],[2000.11,0.00702],[2000.22,0.0053],[2000.33,0.00908],[2000.44,0.00427],[2000.55,0.01149],[2000.66,0.00358],[2000.77,0.00014],[2000.88,-0.00778],[2000.96,-0.01259],[2001.04,-0.00674],[2001.15,-0.00158],[2001.26,0.00083],[2001.37,-0.00021],[2001.48,-0.00158],[2001.59,-0.00674],[2001.70,-0.00846],[2001.81,-0.00502],[2001.92,-0.0033],[2002.03,-0.00502],[2002.14,-0.00468],[2002.25,-0.00399],[2002.36,-0.00502],[2002.47,-0.0064],[2002.58,-0.00296],[2002.69,-0.0033],[2002.80,-0.00158],[2002.91,-0.00296],[2003.02,-0.00502],[2003.13,-0.00571],[2003.24,-0.00468],[2003.35,-0.015],[2003.46,-0.00846],[2003.57,-0.00502],[2003.68,-0.00468],[2003.79,-0.00434],[2003.90,-0.00502],[2004.01,-0.00365],[2004.12,-0.00158],[2004.23,0.00323],[2004.42,-0.00124],[2004.53,-0.00227],[2004.64,-0.00124],[2004.75,-0.00502],[2004.86,-0.00606],[2004.97,0.00014],[2005.05,0.00323],[2005.14,0.00186],[2005.25,-0.00021],[2005.33,0.00151],[2005.41,0.01166],[2005.52,0.00358],[2005.63,-0.00021],[2005.74,0.00255],[2005.82,0.00444],[2005.91,-0.00089],[2006.02,-0.00365],[2006.12,-0.00158],[2006.23,-0.00571],[2006.34,-0.00846],[2006.45,-0.00296],[2006.56,-0.00021],[2006.67,-0.00124],[2006.78,-0.00502],[2006.89,-0.00227],[2007.00,-0.00434],[2007.11,-0.00502],[2007.22,-0.00434],[2007.33,-0.00365],[2007.44,-0.00468],[2007.55,-0.00571],[2007.66,-0.00537],[2007.77,-0.00606],[2007.88,-0.00502],[2007.99,-0.00365],[2008.10,-0.0033],[2008.21,-0.00365],[2008.32,-0.00227],[2008.43,-0.00124],[2008.54,-0.00107],[2008.65,-0.00124],[2008.76,-0.00021],[2008.87,-0.00089],[2008.98,-0.00502],[2009.09,-0.00158],[2009.20,0.00083],[2009.31,0.00547],[2009.42,0.00289],[2009.53,0.00427],[2009.64,0.0053],[2009.75,0.00358],[2009.86,-0.00021],[2009.97,-0.00778],[2010.08,-0.01431],[2010.19,-0.00846],[2010.30,-0.01672],[2010.40,-0.00846],[2010.51,0.00186],[2010.62,0.00702],[2010.73,0.01218],[2010.84,0.0053],[2010.95,-0.00158],[2011.06,0.00255],[2011.17,0.00908],[2011.28,0.00186],[2011.39,-0.00021],[2011.50,-0.00158],[2011.61,-0.0033],[2011.72,-0.00846],[2011.83,-0.00502],[2011.94,-0.00915],[2012.05,-0.00502],[2012.16,0.00323],[2012.27,-0.00158],[2012.38,-0.00778],[2012.49,-0.00296],[2012.60,0.00323],[2012.71,0.00908],[2012.82,0.00186],[2012.93,-0.00158],[2013.04,-0.00434],[2013.15,-0.0064],[2013.26,-0.00158],[2013.37,0.00083],[2013.48,-0.00021],[2013.59,0.00048],[2013.70,-0.00021],[2013.81,-0.00089],[2013.92,0.00014],[2014.03,-0.00021],[2014.14,-0.00158],[2014.25,-0.00055],[2014.36,-0.00089],[2014.47,-0.00227],[2014.57,-0.00193],[2014.68,-0.00296],[2014.79,-0.00227],[2014.90,-0.00434],[2015.01,-0.00984],[2015.12,-0.01397],[2015.23,-0.00778],[2015.34,-0.00158],[2015.45,0.00117],[2015.56,-0.00021],[2015.67,-0.00227],[2015.78,-0.00778],[2015.89,-0.00502],[2016.00,-0.00021],[2016.11,-0.00089],[2016.22,0.00117],[2016.33,-0.00158],[2016.44,-0.00021],[2016.55,-0.00193],[2016.66,-0.00021],[2016.77,0.00117],[2016.88,0.00186],[2016.99,0.00255],[2017.10,-0.00021],[2017.21,-0.00158],[2017.32,-0.00434],[2017.43,-0.00227],[2017.54,-0.00158],[2017.65,-0.00296],[2017.76,-0.00089],[2017.87,-0.00434],[2017.98,-0.00158],[2018.09,-0.00227],[2018.20,-0.00158],[2018.31,-0.00193],[2018.42,-0.00089],[2018.53,-0.00021],[2018.64,0.00048],[2018.75,-0.00021],[2018.85,-0.00089],[2018.96,-0.00055],[2019.07,-0.00089],[2019.18,-0.00158],[2019.29,-0.00124],[2019.40,-0.00227],[2019.51,-0.00089],[2019.62,-0.00158],[2019.73,-0.00124],[2019.84,-0.00055],[2019.95,-0.00021],[2020.06,0.00048],[2020.17,-0.00158],[2020.28,-0.00021],[2020.39,0.00186],[2020.45,0.00289],[2020.53,-0.00021],[2020.61,0.00151],[2020.69,-0.00021],[2020.77,-0.00158],[2020.88,-0.00296],[2020.99,-0.00021],[2021.10,0.00186],[2021.21,0.00083],[2021.32,-0.00089],[2021.43,-0.00124],[2021.54,-0.00124],[2021.70,-0.0014]];
const eurLam3 = 0.0019;

// ---------- layout / styling ----------
const SANS = 'Liberation Sans, Arial, Helvetica, sans-serif';
const AX = '#262626';
const grids = [
  {left: 108, top: 42, width: 382, height: 350},
  {left: 613, top: 67, width: 409, height: 327},
  {left: 108, top: 499, width: 382, height: 349},
  {left: 639, top: 498, width: 383, height: 350}
];
function fmtDec(v) { const r = Math.round(v * 1e4) / 1e4; return r === 0 ? '0' : String(r); }
function xAxis(i, nameGap) {
  return {
    type: 'value', gridIndex: i, min: dateMin, max: dateMax,
    name: 'Date', nameLocation: 'middle', nameGap: nameGap,
    nameTextStyle: {fontFamily: SANS, fontSize: 21, color: AX},
    axisLine: {show: true, onZero: false, lineStyle: {color: AX, width: 1}},
    axisTick: {show: true, inside: true, length: 5, customValues: dateTicks, lineStyle: {color: AX}},
    axisLabel: {customValues: dateTicks, formatter: v => String(Math.round(v)), fontFamily: SANS, fontSize: 19, color: AX, margin: 10},
    splitLine: {show: false}
  };
}
function yAxis(i, range, ticks, fmt) {
  return {
    type: 'value', gridIndex: i, min: range[0], max: range[1],
    axisLine: {show: true, onZero: false, lineStyle: {color: AX, width: 1}},
    axisTick: {show: true, inside: true, length: 5, customValues: ticks, lineStyle: {color: AX}},
    axisLabel: {customValues: ticks, formatter: fmt, fontFamily: SANS, fontSize: 19, color: AX, margin: 6},
    splitLine: {show: false}
  };
}
function line(name, i, data, color, dash, z, width) {
  return {
    name: name, type: 'line', xAxisIndex: i, yAxisIndex: i, data: data,
    symbol: 'none', showSymbol: false, animation: false, z: z || 2,
    color: color,
    lineStyle: {color: color, width: width || 1, type: dash || 'solid'}, itemStyle: {color: color},
    emphasis: {disabled: true}
  };
}
// constant reference level (CL, band, lambda_3) drawn through the axis scales with a custom series
function refLevel(i, v, color, dash, width) {
  return {
    type: 'custom', xAxisIndex: i, yAxisIndex: i, zlevel: 1, z: 5, silent: true, animation: false,
    data: [[dateMin, v, dateMax]],
    encode: {x: [0, 2], y: 1},
    renderItem: (params, api) => {
      const p1 = api.coord([api.value(0), api.value(1)]);
      const p2 = api.coord([api.value(2), api.value(1)]);
      return {type: 'line', shape: {x1: p1[0], y1: p1[1], x2: p2[0], y2: p2[1]},
              style: {stroke: color, lineWidth: width || 1.5, lineDash: dash || null, fill: null}};
    }
  };
}
// series names are made unique per panel with a "#n" suffix that the legend hides
const sfx = i => ' #' + i;
const clean = n => n.replace(/ #\d$/, '');
const DASH = [7, 4];
const RED = '#ff3030';
const series = [
  line(tvlNames[0] + sfx(0), 0, gbpTVL, '#000'),
  line(tvlNames[1] + sfx(0), 0, [], RED, null, 2, 1.5),
  line(tvlNames[2] + sfx(0), 0, [], RED, DASH, 2, 1.5),
  refLevel(0, gbpCL, RED), refLevel(0, gbpBand[0], RED, DASH), refLevel(0, gbpBand[1], RED, DASH),
  line(lamNames[0] + sfx(1), 1, gbpLam1, '#000'),
  line(lamNames[1] + sfx(1), 1, gbpLam2, '#0000ff', null, 3),
  line(lamNames[2] + sfx(1), 1, [], '#ff0000', null, 2, 1.3),
  refLevel(1, gbpLam3, '#ff0000', null, 1.3),
  line(tvlNames[0] + sfx(2), 2, eurTVL, '#000'),
  line(tvlNames[1] + sfx(2), 2, [], RED, null, 2, 1.5),
  line(tvlNames[2] + sfx(2), 2, [], RED, DASH, 2, 1.5),
  refLevel(2, eurCL, RED), refLevel(2, eurBand[0], RED, DASH), refLevel(2, eurBand[1], RED, DASH),
  line(lamNames[0] + sfx(3), 3, eurLam1, '#000'),
  line(lamNames[1] + sfx(3), 3, eurLam2, '#0000ff', null, 3),
  line(lamNames[2] + sfx(3), 3, [], RED, null, 2, 1.5),
  refLevel(3, eurLam3, RED, null, 1.5)
];
function legendTVL(p, top) {
  return {
    data: tvlNames.map(n => n + sfx(p)), orient: 'vertical', left: 367, top: top, zlevel: 2,
    itemWidth: 21, itemHeight: 10, itemGap: 4, padding: [4, 1, 3, 2],
    borderColor: AX, borderWidth: 1, backgroundColor: '#fff', selectedMode: false,
    itemStyle: {opacity: 0}, formatter: clean,
    textStyle: {fontFamily: SANS, fontSize: 18, color: '#000', lineHeight: 18}
  };
}
function legendLam(p, top, gap) {
  return {
    data: lamNames.map(n => n + sfx(p)), orient: 'vertical', left: 963, top: top, zlevel: 2,
    itemWidth: 20, itemHeight: 10, itemGap: gap, padding: [4, 1, 4, 3],
    borderColor: AX, borderWidth: 1, backgroundColor: '#fff', selectedMode: false,
    itemStyle: {opacity: 0},
    formatter: n => '{l|λ}{s|' + clean(n).slice(1) + '}',
    textStyle: {fontFamily: SANS, color: '#000',
      rich: {l: {fontFamily: SANS, fontSize: 20, color: '#000'},
             s: {fontFamily: SANS, fontSize: 13, color: '#000', padding: [11, 0, 0, 0]}}}
  };
}
function frac(cx, cy) {
  const rich = {a: {fontFamily: 'DejaVu Serif', fontStyle: 'italic', fontSize: 16, fill: '#000'},
                b: {fontFamily: 'DejaVu Serif', fontStyle: 'italic', fontSize: 11, fill: '#000', padding: [7, 0, 0, 0]}};
  return {
    type: 'group', x: cx, y: cy, rotation: Math.PI / 2,
    children: [
      {type: 'text', x: 0, y: -2, style: {text: '{a|∂Δs}{b|t}', rich: rich, align: 'center', verticalAlign: 'bottom'}},
      {type: 'line', shape: {x1: -19, y1: 0, x2: 19, y2: 0}, style: {stroke: '#000', lineWidth: 1}},
      {type: 'text', x: 0, y: 1, style: {text: '{a|∂f}{b|t}', rich: rich, align: 'center', verticalAlign: 'top'}}
    ]
  };
}
function title(t, cx, cy) {
  return {type: 'text', x: cx, y: cy, style: {text: t, fontFamily: 'DejaVu Serif', fontSize: 21.5, fill: '#000', align: 'center', verticalAlign: 'middle'}};
}
const graphic = [
  title(titles[0], 247, 24), title(titles[1], 783, 24),
  title(titles[2], 247, 481), title(titles[3], 783, 481),
  frac(27, 218), frac(568, 231), frac(27, 674), frac(568, 673),
  {type: 'text', x: 615, y: 57, style: {text: '×10', fontFamily: SANS, fontSize: 19, fill: AX, align: 'left', verticalAlign: 'middle'}},
  {type: 'text', x: 647, y: 51, style: {text: '-3', fontFamily: SANS, fontSize: 14, fill: AX, align: 'left', verticalAlign: 'middle'}}
];

const chart = echarts.init(document.getElementById('c'), null, {renderer: 'canvas'});
chart.setOption({
  animation: false,
  backgroundColor: '#fff',
  grid: grids,
  xAxis: [xAxis(0, 34), xAxis(1, 32), xAxis(2, 34), xAxis(3, 34)],
  yAxis: [
    yAxis(0, yRangeA, yTicksA, fmtDec),
    yAxis(1, yRangeB, yTicksB, v => String(Math.round(v))),
    yAxis(2, yRangeC, yTicksC, fmtDec),
    yAxis(3, yRangeD, yTicksD, fmtDec)
  ],
  legend: [legendTVL(0, 48), legendLam(1, 72, 5), legendTVL(2, 505), legendLam(3, 504, 8)],
  series: series,
  graphic: graphic
});
</script>
</body></html>
